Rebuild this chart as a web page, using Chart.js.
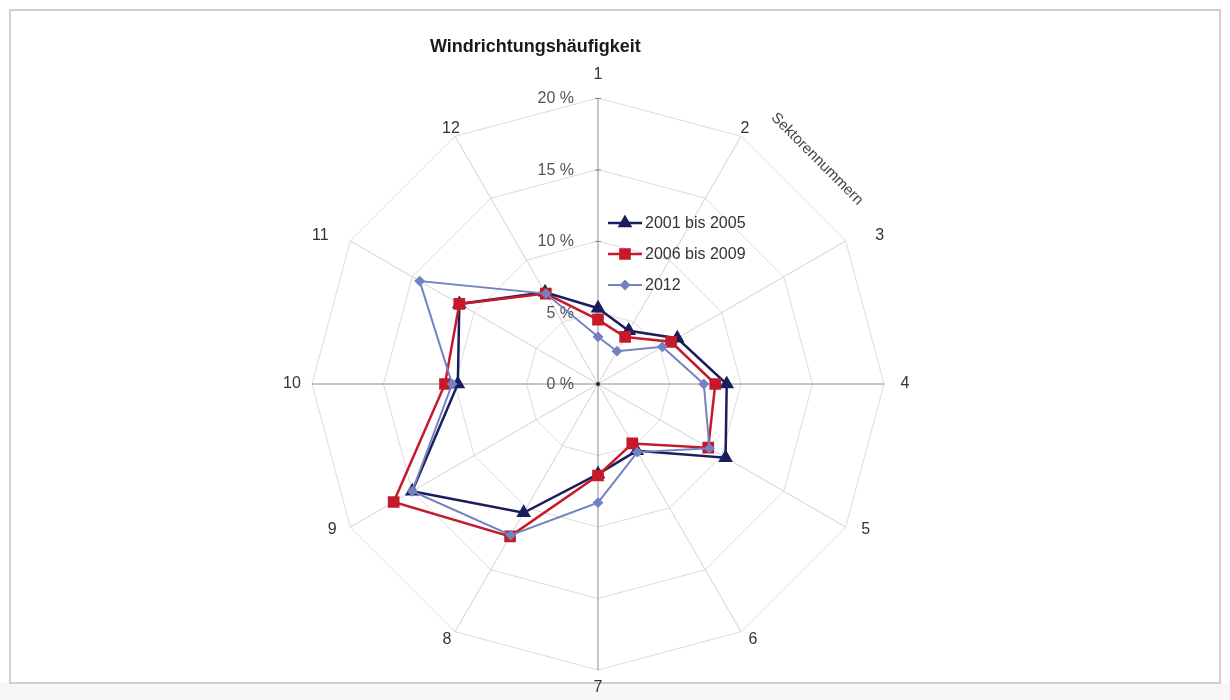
<!DOCTYPE html>
<html>
<head>
<meta charset="utf-8">
<script src="https://cdn.jsdelivr.net/npm/chart.js@4/dist/chart.umd.min.js"></script>
<style>
  html, body { margin: 0; padding: 0; background: #ffffff; }
  #wrap { width: 1230px; height: 700px; position: relative; }
</style>
</head>
<body>
<div id="wrap"><canvas id="c" width="1230" height="700"></canvas></div>
<script>
// ---- data ----
const sectors = ['1','2','3','4','5','6','7','8','9','10','11','12'];
const series2001_2005 = [5.3, 4.3, 6.4, 9.0, 10.3, 5.4, 6.3, 10.4, 15.0, 9.8, 11.2, 7.4];
const series2006_2009 = [4.5, 3.8, 5.9, 8.2, 8.9, 4.8, 6.4, 12.3, 16.5, 10.7, 11.2, 7.3];
const series2012      = [3.3, 2.65, 5.2, 7.4, 9.0, 5.5, 8.3, 12.2, 15.0, 10.2, 14.4, 7.3];
const seriesNames = ['2001 bis 2005', '2006 bis 2009', '2012'];
const tickValues = [0, 5, 10, 15, 20];
const tickLabels = ['0 %', '5 %', '10 %', '15 %', '20 %'];
const titleText = 'Windrichtungshäufigkeit';
const axisTitle = 'Sektorennummern';

const FONT = '"Liberation Sans", Arial, sans-serif';

// layout tweak: offset (px) of each sector label from its outer-ring vertex
const labelOffsetX = [0, 4, 34, 21, 20, 12, 0, -8, -18, -20, -30, -4];
const labelOffsetY = [-23, -8, -5, 0, 3, 8, 18, 8, 3, 0, -5, -8];

function drawMarker(ctx, ds, x, y) {
  if (Chart.helpers && Chart.helpers.drawPoint) {
    Chart.helpers.drawPoint(ctx, {
      pointStyle: ds.pointStyle, radius: ds.pointRadius, rotation: 0,
      borderWidth: 1
    }, x, y);
    return;
  }
  ctx.beginPath(); ctx.arc(x, y, ds.pointRadius, 0, Math.PI * 2); ctx.fill(); ctx.stroke();
}

const overlay = {
  id: 'overlay',
  beforeDraw(chart) {
    const ctx = chart.ctx;
    ctx.save();
    ctx.fillStyle = '#ffffff';
    ctx.fillRect(0, 0, chart.width, chart.height);
    ctx.fillStyle = '#f7f7f7';
    ctx.fillRect(0, 683, chart.width, chart.height - 683);
    ctx.strokeStyle = '#cfcfcf';
    ctx.lineWidth = 2;
    ctx.strokeRect(10, 10, 1210, 673);
    ctx.restore();
  },
  beforeDatasetsDraw(chart) {
    const s = chart.scales.r;
    const ctx = chart.ctx;
    ctx.save();
    // tick labels, left of the vertical axis
    ctx.font = '16px ' + FONT;
    ctx.fillStyle = '#555555';
    ctx.textAlign = 'right';
    ctx.textBaseline = 'middle';
    tickValues.forEach((v, i) => {
      const d = s.getDistanceFromCenterForValue(v);
      ctx.fillText(tickLabels[i], s.xCenter - 24, s.yCenter - d + 1);
      if (i > 0) {
        ctx.strokeStyle = '#888888';
        ctx.lineWidth = 1;
        ctx.beginPath();
        ctx.moveTo(s.xCenter - 3, s.yCenter - d + 0.5);
        ctx.lineTo(s.xCenter + 3, s.yCenter - d + 0.5);
        ctx.stroke();
      }
    });
    // center dot
    ctx.fillStyle = '#222222';
    ctx.beginPath();
    ctx.arc(s.xCenter, s.yCenter, 2, 0, Math.PI * 2);
    ctx.fill();
    // sector labels
    ctx.font = '16px ' + FONT;
    ctx.fillStyle = '#333333';
    ctx.textAlign = 'center';
    ctx.textBaseline = 'middle';
    sectors.forEach((lab, i) => {
      const p = s.getPointPosition(i, s.drawingArea);
      ctx.fillText(lab, p.x + labelOffsetX[i], p.y + labelOffsetY[i]);
    });
    ctx.restore();
  },
  afterDraw(chart) {
    const ctx = chart.ctx;
    ctx.save();
    // title
    ctx.font = 'bold 18px ' + FONT;
    ctx.fillStyle = '#1a1a1a';
    ctx.textAlign = 'left';
    ctx.textBaseline = 'middle';
    ctx.fillText(titleText, 430, 47);
    // rotated axis title
    ctx.save();
    ctx.translate(817, 159);
    ctx.rotate(Math.PI / 4);
    ctx.font = '15px ' + FONT;
    ctx.fillStyle = '#444444';
    ctx.textAlign = 'center';
    ctx.textBaseline = 'middle';
    ctx.fillText(axisTitle, 0, 0);
    ctx.restore();
    // legend
    const lx = 608, lw = 34;
    const rowY = [223, 254, 285];
    chart.data.datasets.forEach((ds, i) => {
      const y = rowY[i];
      ctx.strokeStyle = ds.borderColor;
      ctx.lineWidth = ds.borderWidth;
      ctx.beginPath();
      ctx.moveTo(lx, y);
      ctx.lineTo(lx + lw, y);
      ctx.stroke();
      ctx.fillStyle = ds.pointBackgroundColor;
      ctx.strokeStyle = ds.pointBorderColor;
      drawMarker(ctx, ds, lx + lw / 2, y);
      ctx.font = '16px ' + FONT;
      ctx.fillStyle = '#333333';
      ctx.textAlign = 'left';
      ctx.textBaseline = 'middle';
      ctx.fillText(ds.label, lx + lw + 3, y + 1);
    });
    ctx.restore();
  }
};

const majorAngle = (ctx) => (ctx.index % 3 === 0 ? '#8c8c8c' : '#d2d2d2');

new Chart(document.getElementById('c'), {
  type: 'radar',
  data: {
    labels: sectors,
    datasets: [
      {
        label: seriesNames[0], data: series2001_2005, order: 3,
        borderColor: '#1b1e5c', backgroundColor: '#1b1e5c',
        pointBackgroundColor: '#1b1e5c', pointBorderColor: '#1b1e5c',
        pointStyle: 'triangle', pointRadius: 6, borderWidth: 2.5, fill: false
      },
      {
        label: seriesNames[1], data: series2006_2009, order: 2,
        borderColor: '#c41a2a', backgroundColor: '#c41a2a',
        pointBackgroundColor: '#c41a2a', pointBorderColor: '#c41a2a',
        pointStyle: 'rect', pointRadius: 6.5, borderWidth: 2.5, fill: false
      },
      {
        label: seriesNames[2], data: series2012, order: 1,
        borderColor: '#7282c2', backgroundColor: '#7282c2',
        pointBackgroundColor: '#7282c2', pointBorderColor: '#7282c2',
        pointStyle: 'rectRot', pointRadius: 4, borderWidth: 2, fill: false
      }
    ]
  },
  options: {
    responsive: false,
    animation: false,
    events: [],
    layout: { padding: { left: 312, right: 346, top: 98, bottom: 30 } },
    plugins: { legend: { display: false }, title: { display: false }, tooltip: { enabled: false } },
    elements: { line: { tension: 0 } },
    scales: {
      r: {
        min: 0, max: 20,
        ticks: { display: false, stepSize: 5 },
        pointLabels: { display: false },
        grid: { color: '#dcdcdc', lineWidth: 1 },
        angleLines: { color: majorAngle, lineWidth: 1 }
      }
    }
  },
  plugins: [overlay]
});
</script>
</body>
</html>
